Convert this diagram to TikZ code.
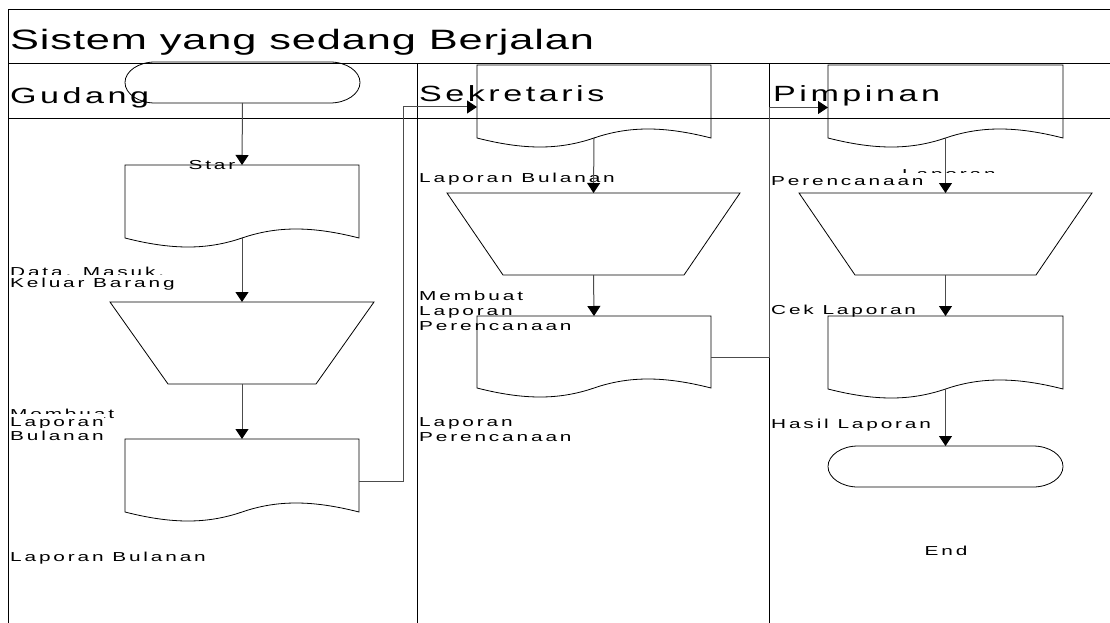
\documentclass[tikz,border=0pt]{standalone}
\usepackage{fontspec}
\setmainfont{Liberation Sans}
\newfontfamily\lblfam[FakeStretch=1.6,LetterSpace=22]{Liberation Sans}
\newfontfamily\lanefam[FakeStretch=1.55,LetterSpace=16]{Liberation Sans}
\newfontfamily\titlefam[FakeStretch=1.55,LetterSpace=3]{Liberation Sans}
\usetikzlibrary{arrows.meta}
\tikzset{
  frame/.style={draw=black, line width=1pt},
  shp/.style={draw=black, line width=0.8pt},
  box/.style={draw=none, inner sep=0pt, outer sep=0pt},
  conn/.style={draw=black!70, line width=1pt},
  arr/.style={conn, -{Triangle[width=13pt,length=10pt,color=black]}},
  lbl/.style={font=\lblfam\fontsize{13}{15}\selectfont, inner sep=0pt, fill=white, text height=12pt, text depth=3pt, anchor=base west},
  lanetxt/.style={font=\lanefam\fontsize{22}{26}\selectfont, inner sep=0pt, anchor=base west},
  ttltxt/.style={font=\titlefam\fontsize{28}{32}\selectfont, inner sep=0pt, anchor=base west},
}
\newcommand{\docshape}[1]{\draw[shp] (#1.south west) -- (#1.north west) -- (#1.north east) -- (#1.south east) .. controls +(-47,-12) and +(35,-12) .. (#1.south) .. controls +(-35,12) and +(47,12) .. (#1.south west) -- cycle;}
\newcommand{\trapshape}[2]{\draw[shp] (#1.north west) -- (#1.north east) -- ([xshift=-#2pt]#1.south east) -- ([xshift=#2pt]#1.south west) -- cycle;}
\newcommand{\termshape}[1]{\draw[shp] ([xshift=-30pt]#1.north east) .. controls +(16.5,0) and +(0,-11.3) .. (#1.east) .. controls +(0,11.3) and +(16.5,0) .. ([xshift=-30pt]#1.south east) -- ([xshift=30pt]#1.south west) .. controls +(-16.5,0) and +(0,11.3) .. (#1.west) .. controls +(0,-11.3) and +(-16.5,0) .. ([xshift=30pt]#1.north west) -- cycle;}
\begin{document}
\begin{tikzpicture}[x=1pt,y=-1pt]
\useasboundingbox (0,0) rectangle (1110,623);
\fill[white] (0,0) rectangle (1110,623);
% frame
\draw[frame] (8,623) -- (8,10) -- (1110,10);
\draw[frame] (8,64) -- (1110,64);
\draw[frame] (8,119) -- (1110,119);
\draw[frame] (417,64) -- (417,623);
\draw[frame] (769,64) -- (769,623);
% headings
\node[ttltxt] (title) at (10,50) {Sistem yang sedang Berjalan};
\node[lanetxt] (lg) at (10,103) {Gudang};
\node[lanetxt] (ls) at (419,102) {Sekretaris};
\node[lanetxt] (lp) at (773,102) {Pimpinan};
% labels Gudang
\node[lbl, anchor=base] (tstar) at (212,169) {Star};
\node[lbl] (g1a) at (10,276.5) {Data. Masuk.};
\node[lbl] (g1b) at (10,287) {Keluar Barang};
\node[lbl] (g2a) at (10,418) {Membuat};
\node[lbl] (g2b) at (10,426) {Laporan};
\node[lbl] (g2c) at (10,440) {Bulanan};
\node[lbl] (g3) at (10,561) {Laporan Bulanan};
% labels Sekretaris
\node[lbl] (s1) at (419,182) {Laporan Bulanan};
\node[lbl] (s2a) at (419,300) {Membuat};
\node[lbl] (s2b) at (419,315) {Laporan};
\node[lbl] (s2c) at (419,330) {Perencanaan};
\node[lbl] (s3a) at (419,426) {Laporan};
\node[lbl] (s3b) at (419,441) {Perencanaan};
% labels Pimpinan
\node[lbl] (p1a) at (902,178) {Laporan};
\node[lbl, text width=225pt, align=left] (p1b) at (771,185) {Perencanaan};
\node[lbl] (p2) at (771,314) {Cek Laporan};
\node[lbl] (p3) at (771,428) {Hasil Laporan};
\node[lbl, anchor=base] (tend) at (946,555) {End};
% shapes
\node[box, minimum width=235pt, minimum height=41pt] (start) at (242.5,82.5) {};
\node[box, minimum width=235pt, minimum height=41pt] (end) at (945.5,466.5) {};
\termshape{start}\termshape{end}
\node[box, minimum width=234pt, minimum height=73pt] (d1) at (242,201.5) {};
\node[box, minimum width=234pt, minimum height=73pt] (d2) at (242,475.5) {};
\node[box, minimum width=234pt, minimum height=73pt] (d3) at (594,101.5) {};
\node[box, minimum width=234pt, minimum height=72pt] (d4) at (594,352) {};
\node[box, minimum width=235pt, minimum height=73pt] (d5) at (945.5,101.5) {};
\node[box, minimum width=235pt, minimum height=73pt] (d6) at (945.5,352.5) {};
\docshape{d1}\docshape{d2}\docshape{d3}\docshape{d4}\docshape{d5}\docshape{d6}
\node[box, minimum width=264pt, minimum height=82pt] (t1) at (242,343) {};
\node[box, minimum width=293pt, minimum height=82pt] (t2) at (593.5,234) {};
\node[box, minimum width=293pt, minimum height=82pt] (t3) at (945.5,234) {};
\trapshape{t1}{58}\trapshape{t2}{56}\trapshape{t3}{56}
% connectors
\draw[arr] (start.south) -- (d1.north);
\draw[arr] (d1.south) -- (t1.north);
\draw[arr] (t1.south) -- (d2.north);
\draw[arr] ([yshift=-5.5pt]d2.east) -- ++(44,0) |- ([yshift=-5.5pt]d3.west);
\draw[arr] (d3.south) -- (t2.north);
\draw[arr] (t2.south) -- (d4.north);
\draw[arr] ([yshift=-5pt]d4.east) -- ++(58,0) |- ([yshift=-6pt]d5.west);
\draw[arr] (d5.south) -- (t3.north);
\draw[arr] (t3.south) -- (d6.north);
\draw[arr] (d6.south) -- (end.north);
\end{tikzpicture}
\end{document}
